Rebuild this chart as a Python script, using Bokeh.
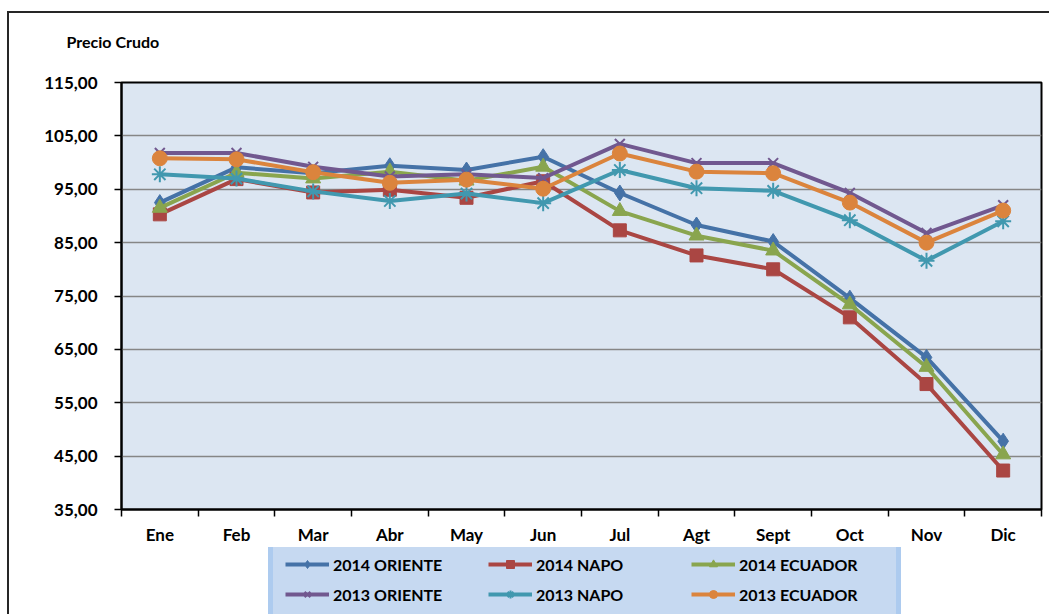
from bokeh.plotting import figure
from bokeh.layouts import column
from bokeh.models import FixedTicker, Legend, LegendItem, Range1d, Title
from bokeh.embed import file_html
from bokeh.resources import INLINE

months = ["Ene", "Feb", "Mar", "Abr", "May", "Jun", "Jul", "Agt", "Sept", "Oct", "Nov", "Dic"]

oriente_2014 = [92.5, 99.1, 98.0, 99.4, 98.6, 101.1, 94.3, 88.3, 85.2, 74.6, 63.5, 47.8]
napo_2014 = [90.3, 96.9, 94.4, 94.9, 93.4, 96.5, 87.3, 82.6, 80.0, 71.0, 58.5, 42.3]
ecuador_2014 = [91.5, 98.1, 97.0, 98.3, 96.6, 99.2, 90.9, 86.3, 83.5, 73.4, 61.7, 45.3]
oriente_2013 = [101.8, 101.8, 99.2, 97.4, 97.8, 97.1, 103.5, 99.9, 99.9, 94.3, 86.8, 92.0]
napo_2013 = [97.8, 97.0, 94.6, 92.8, 94.2, 92.4, 98.6, 95.2, 94.7, 89.2, 81.6, 89.0]
ecuador_2013 = [100.8, 100.6, 98.2, 96.2, 96.8, 95.1, 101.7, 98.3, 98.0, 92.5, 85.0, 91.0]

series_names = ["2014 ORIENTE", "2014 NAPO", "2014 ECUADOR", "2013 ORIENTE", "2013 NAPO", "2013 ECUADOR"]
series_values = [oriente_2014, napo_2014, ecuador_2014, oriente_2013, napo_2013, ecuador_2013]
series_colors = ["#4572A7", "#AA4643", "#89A54E", "#71588F", "#4198AF", "#DB843D"]
series_markers = ["diamond", "square", "triangle", "x", "asterisk", "circle"]
marker_sizes = [16, 13, 15, 14, 16, 15]

y_ticks = [35, 45, 55, 65, 75, 85, 95, 105, 115]
y_tick_labels = ["35,00", "45,00", "55,00", "65,00", "75,00", "85,00", "95,00", "105,00", "115,00"]

FONT = "Lato"

x_pos = [i + 0.5 for i in range(len(months))]
boundaries = list(range(len(months) + 1))


def add_series(fig, name, vals, col, mk, ms):
    lr = fig.line(x_pos, vals, line_color=col, line_width=4)
    if mk in ("x", "asterisk"):
        sr = fig.scatter(x_pos, vals, marker=mk, size=ms, line_color=col, line_width=2)
    else:
        sr = fig.scatter(x_pos, vals, marker=mk, size=ms, fill_color=col, line_color=col, line_width=1)
    return LegendItem(label=name, renderers=[lr, sr])


p = figure(width=1040, height=534, output_backend="svg", toolbar_location=None,
           x_range=Range1d(0, len(months)), y_range=Range1d(y_ticks[0], y_ticks[-1]),
           min_border_left=112, min_border_right=8, min_border_top=69, min_border_bottom=35)

p.background_fill_color = "#dce6f2"
p.border_fill_color = "white"
p.outline_line_color = "black"
p.outline_line_width = 2

# spacer between the plot area and the title
p.add_layout(Title(text=" ", text_font_size="1px", standoff=29), "above")

p.title.text = "Precio Crudo"
p.title.align = "left"
p.title.offset = -55
p.title.text_font = FONT
p.title.text_font_size = "16px"
p.title.text_font_style = "bold"
p.title.text_color = "black"
p.title.standoff = 0

# axes
p.yaxis.ticker = FixedTicker(ticks=y_ticks)
p.yaxis.major_label_overrides = dict(zip(y_ticks, y_tick_labels))
p.yaxis.axis_line_width = 2
p.yaxis.axis_line_color = "black"
p.yaxis.major_tick_out = 7
p.yaxis.major_tick_in = 0
p.yaxis.major_tick_line_width = 1.5
p.yaxis.major_tick_line_color = "black"
p.yaxis.minor_tick_line_color = None
p.yaxis.major_label_standoff = 17
p.yaxis.major_label_text_font = FONT
p.yaxis.major_label_text_font_size = "17px"
p.yaxis.major_label_text_font_style = "bold"
p.yaxis.major_label_text_color = "black"

p.xaxis.ticker = FixedTicker(ticks=x_pos, minor_ticks=boundaries)
p.xaxis.major_label_overrides = dict(zip(x_pos, months))
p.xaxis.axis_line_width = 2
p.xaxis.axis_line_color = "black"
p.xaxis.major_tick_out = 0
p.xaxis.major_tick_in = 0
p.xaxis.minor_tick_out = 7
p.xaxis.minor_tick_in = 0
p.xaxis.minor_tick_line_width = 1.5
p.xaxis.minor_tick_line_color = "black"
p.xaxis.major_label_standoff = 7
p.xaxis.major_label_text_font = FONT
p.xaxis.major_label_text_font_size = "17px"
p.xaxis.major_label_text_font_style = "bold"
p.xaxis.major_label_text_color = "black"

p.xgrid.visible = False
p.ygrid.ticker = FixedTicker(ticks=y_ticks)
p.ygrid.grid_line_color = "#868686"
p.ygrid.grid_line_width = 1.5

for name, vals, col, mk, ms in zip(series_names, series_values, series_colors, series_markers, marker_sizes):
    add_series(p, name, vals, col, mk, ms)

# legend strip below the chart (its ranges keep the series out of view; only the legend shows)
lg = figure(width=1040, height=67, output_backend="svg", toolbar_location=None,
            x_range=Range1d(0, 1), y_range=Range1d(0, 1),
            x_axis_location=None, y_axis_location=None, min_border=0)
lg.grid.visible = False
lg.outline_line_color = None
lg.background_fill_color = "white"
lg.border_fill_color = "white"

items = [add_series(lg, name, vals, col, mk, 10)
         for name, vals, col, mk in zip(series_names, series_values, series_colors, series_markers)]

legend = Legend(items=items, orientation="horizontal", ncols=3, location=(147, -7),
                padding=12, spacing=10, glyph_width=44, glyph_height=20, label_height=20,
                label_width=145, label_standoff=4, margin=0,
                label_text_font=FONT, label_text_font_size="16px", label_text_font_style="bold",
                label_text_color="black",
                background_fill_color="#c6d9f1", background_fill_alpha=1.0,
                border_line_color="#a4c6ee", border_line_width=5, border_line_alpha=0.75)
lg.add_layout(legend, "center")

layout = column(p, lg, spacing=0)
layout.styles = {"margin-top": "11px", "margin-left": "7px",
                 "border-top": "2px solid #262626", "border-left": "2px solid #262626"}

open("out.html", "w").write(file_html(layout, INLINE))
